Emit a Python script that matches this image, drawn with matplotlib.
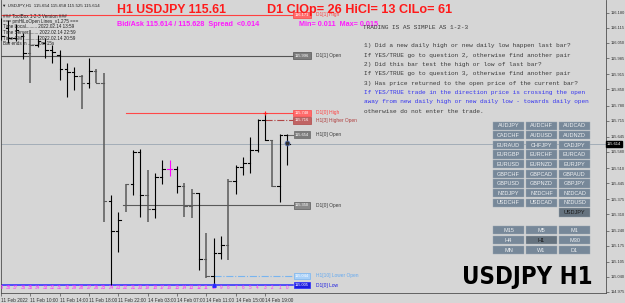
import os
import matplotlib
matplotlib.use("Agg")
import matplotlib.pyplot as plt
from matplotlib.patches import Rectangle
from matplotlib import font_manager as fm

W, H = 625, 303

# H1 bars, oldest (bar 39) to newest (bar 0)
bar_numbers = list(range(39, -1, -1))
opens = [116.106, 116.115, 116.072, 116.080, 116.007, 116.041, 116.050, 116.020, 115.998, 115.938,
         115.925, 115.907, 115.877, 115.929, 115.877, 115.368, 115.238, 115.350, 115.441, 115.579,
         115.394, 115.333, 115.471, 115.506, 115.506, 115.433, 115.346, 115.402, 115.117, 115.044,
         115.143, 115.178, 115.454, 115.515, 115.532, 115.588, 115.716, 115.631, 115.433, 115.654]
highs = [116.158, 116.149, 116.132, 116.093, 116.106, 116.085, 116.072, 116.041, 116.020, 115.964,
         115.946, 115.912, 115.985, 115.938, 115.920, 115.394, 115.320, 115.441, 115.588, 115.592,
         115.502, 115.489, 115.545, 115.545, 115.519, 115.445, 115.420, 115.402, 115.230, 115.208,
         115.217, 115.463, 115.523, 115.558, 115.644, 115.722, 115.748, 115.631, 115.657, 115.658]
lows = [116.063, 116.050, 116.059, 115.981, 115.877, 116.033, 115.985, 115.964, 115.890, 115.817,
        115.847, 115.765, 115.856, 115.877, 115.277, 115.005, 115.148, 115.320, 115.394, 115.299,
        115.277, 115.294, 115.441, 115.476, 115.402, 115.299, 115.294, 115.069, 115.035, 115.005,
        115.117, 115.113, 115.398, 115.480, 115.489, 115.579, 115.631, 115.428, 115.363, 115.525]
closes = [116.080, 116.072, 116.106, 116.007, 116.041, 116.059, 116.020, 116.011, 115.938, 115.925,
          115.907, 115.877, 115.929, 115.877, 115.368, 115.238, 115.286, 115.441, 115.579, 115.394,
          115.333, 115.471, 115.506, 115.506, 115.433, 115.346, 115.402, 115.117, 115.044, 115.143,
          115.178, 115.454, 115.515, 115.532, 115.588, 115.718, 115.631, 115.433, 115.653, 115.614]

x_labels = ["11 Feb 2022", "11 Feb 10:00", "11 Feb 14:00", "11 Feb 18:00", "11 Feb 22:00",
            "14 Feb 03:00", "14 Feb 07:00", "14 Feb 11:00", "14 Feb 15:00", "14 Feb 19:00"]
y_ticks = [116.180, 116.115, 116.050, 115.985, 115.915, 115.850, 115.780, 115.715, 115.645,
           115.580, 115.510, 115.445, 115.375, 115.310, 115.240, 115.175, 115.105, 115.040, 114.975]
bid, ask = 115.614, 115.628

# price levels: name, price, first bar number the line starts on
level_names = ["D1[1] High", "D1[1] Open", "D1[0] High", "H1[3] Higher Open",
               "H1[0] Open", "D1[0] Open", "H1[10] Lower Open", "D1[0] Low"]
level_prices = [116.171, 115.996, 115.748, 115.716, 115.654, 115.350, 115.044, 115.005]
level_start = [45, 45, 22, 3, 0, 22, 10, 45]

pairs = ["AUDJPY", "AUDCHF", "AUDCAD", "CADCHF", "AUDUSD", "AUDNZD", "EURAUD", "CHFJPY", "CADJPY",
         "EURGBP", "EURCHF", "EURCAD", "EURUSD", "EURNZD", "EURJPY", "GBPCHF", "GBPCAD", "GBPAUD",
         "GBPUSD", "GBPNZD", "GBPJPY", "NZDJPY", "NZDCHF", "NZDCAD", "USDCHF", "USDCAD", "NZDUSD",
         "", "", "USDJPY"]
timeframes = ["M15", "M5", "M1", "H4", "H1", "M30", "MN", "W1", "D1"]

rules = [
    "1) Did a new daily high or new daily low happen last bar?",
    "If YES/TRUE go to question 2, otherwise find another pair",
    "2) Did this bar test the high or low of last bar?",
    "If YES/TRUE go to question 3, otherwise find another pair",
    "3) Has price returned to the open price of the current bar?",
    "If YES/TRUE trade in the direction price is crossing the open",
    "away from new daily high or new daily low - towards daily open",
    "otherwise do not enter the trade.",
]

# styles
BG = "#d6d6d6"
gray_bars = [35, 28, 26, 25, 22, 19, 14, 13, 11, 8, 2]
level_colors = ["#ff4040", "#555555", "#ff4848", "#b04646", "#6a6a6a", "#5a5a5a", "#78b4f0", "#2a2aff"]
level_box = ["#ff6a6a", "#7c7c7c", "#ff6a6a", "#c06464", "#7c7c7c", "#8a8a8a", "#a8d0f8", "#1c1ce0"]
label_colors = ["#ff4040", "#3c3c3c", "#ff4040", "#b04040", "#3c3c3c", "#3c3c3c", "#66aaf0", "#2020e0"]
level_styles = ["-", "-", "-", "-.", "-", "-", "-.", "-"]
rule_colors = ["#3a3a3a"] * 5 + ["#3535f0", "#3535f0", "#3a3a3a"]
SANS = ["Liberation Sans", "DejaVu Sans"]
MONO = ["Liberation Mono", "DejaVu Sans Mono"]


def px(x):
    return 39 - (287 - x) / 7.33


def fx(x):
    return x / W


def fy(y):
    return 1 - y / H


def price(y):
    return 116.050 - (y - 43) / 231.6


def narrow_bold_font():
    # look for a condensed / narrow bold face for the big symbol caption
    for f in fm.fontManager.ttflist:
        base = os.path.basename(f.fname).lower()
        bold = f.weight in ("bold", 700, "heavy", 800, 900, "black")
        if bold and ("narrow" in base or "condensed" in base or "narrow" in f.name.lower()
                     or "condensed" in f.name.lower()):
            return fm.FontProperties(fname=f.fname)
    return fm.FontProperties(family="Liberation Sans", weight="bold")


fig = plt.figure(figsize=(W / 100, H / 100), dpi=100, facecolor=BG)
ax = fig.add_axes([fx(1), 1 - 293 / H, (606 - 1) / W, 293 / H])
ax.set_facecolor(BG)
ax.set_xlim(px(1), px(606))
ax.set_ylim(price(293), price(0))

# bid line
ax.axhline(bid, color="#a3adb8", lw=0.7, zorder=1)

# levels
for name, p, s, c, bc, lc, ls in zip(level_names, level_prices, level_start, level_colors,
                                     level_box, label_colors, level_styles):
    lw = 1.1 if name == "D1[0] Low" else 0.8
    ax.plot([39 - s, px(293)], [p, p], color=c, lw=lw, ls=ls, zorder=2)
    ax.text(px(302), p, f"{p:.3f}", fontsize=2.9, family=SANS, color="white", ha="center", va="center",
            bbox=dict(boxstyle="square,pad=0.35", fc=bc, ec=c, lw=0.5), zorder=5)
    ax.text(px(316), p, name, fontsize=3.5, family=SANS, color=lc, ha="left", va="center", zorder=5)

# bars
for i, (n, o, h, l, c) in enumerate(zip(bar_numbers, opens, highs, lows, closes)):
    col, lw = "#000000", 0.8
    if n in gray_bars:
        col, lw = "#5a5a5a", 1.1
    if n == 16:
        col = "#ff00ff"
    ax.plot([i, i], [l, h], color=col, lw=lw, solid_capstyle="butt", zorder=3)
    ax.plot([i - 0.35, i], [o, o], color=col, lw=0.8, zorder=3)
    ax.plot([i, i + 0.35], [c, c], color=col, lw=0.8, zorder=3)
    ax.text(i, price(287.5), str(n), color="#ff2cff", fontsize=3.3, family=SANS,
            ha="center", va="center", zorder=4, clip_on=True)

# markers: day high / day low / current bar
ax.plot([39 - 3], [level_prices[2]], marker="+", color="#ff2020", ms=3, mew=0.8, zorder=6)
ax.plot([39 - 10], [level_prices[7]], marker="^", color="#2a2aff", ms=2.5, zorder=6)
ax.plot([39], [bid + 0.006], marker="o", color="#303030", mec="#5070c0", ms=3.5, mew=0.5, zorder=6)

# axes styling
ax.spines["top"].set_visible(False)
for side in ["left", "bottom", "right"]:
    ax.spines[side].set_color("#505050")
    ax.spines[side].set_linewidth(0.6)
ax.set_xticks(range(0, 40, 4))
ax.set_xticklabels(x_labels, ha="left")
ax.yaxis.tick_right()
ax.set_yticks(y_ticks)
ax.set_yticklabels([f"{v:.3f}" for v in y_ticks])
ax.tick_params(axis="x", length=2, width=0.4, pad=1.5, labelsize=3.4, colors="#303030")
ax.tick_params(axis="y", length=2, width=0.4, pad=1.5, labelsize=2.9, colors="#303030")
for t in ax.get_xticklabels() + ax.get_yticklabels():
    t.set_family(SANS)
ax.text(px(607), bid, f"{bid:.3f}", fontsize=2.9, family=SANS, color="white", ha="left", va="center",
        bbox=dict(boxstyle="square,pad=0.3", fc="black", ec="black"), zorder=7, clip_on=False)

# header and info block
fig.text(fx(2), fy(5.5), "\u25bc USDJPY,H1  115.654 115.658 115.525 115.614", fontsize=3.2,
         family=SANS, color="#202020", va="center")
info = ["### ToolBox 1-2-3 Version ###", "=== pmHiLoOpen Lines_v1.275 ===",
        "Time Local......... 2022.02.14 13:59", "Time Server........ 2022.02.14 22:59",
        "Time GMT........... 2022.02.14 20:59", "Bar ends in ........ 0m 15s"]
for line, y in zip(info, [16, 21, 26.5, 32.5, 38, 43.5]):
    fig.text(fx(3), fy(y), line, fontsize=3.3, family=SANS, color="#202020", va="center")

fig.text(fx(117), fy(12.8), "H1 USDJPY 115.61", fontsize=8.8, weight="bold", family=SANS,
         color="#ff1a1a", va="baseline", zorder=10)
fig.text(fx(267), fy(12.8), "D1 ClOp= 26 HiCl= 13 ClLo= 61", fontsize=9.1, weight="bold",
         family=SANS, color="#ff1a1a", va="baseline", zorder=10)
fig.text(fx(117), fy(26), f"Bid/Ask {bid:.3f} / {ask:.3f}  Spread  <0.014", fontsize=5.2,
         weight="bold", family=SANS, color="#ff1aff", va="baseline")
fig.text(fx(299), fy(26), "Min= 0.011  Max= 0.015", fontsize=5.2, weight="bold", family=SANS,
         color="#ff1aff", va="baseline")

# rules text
fig.text(fx(363), fy(27.5), "TRADING IS AS SIMPLE AS 1-2-3", fontsize=4.4, family=MONO,
         color="#3a3a3a", va="center")
for k, (line, c) in enumerate(zip(rules, rule_colors)):
    fig.text(fx(364), fy(46 + 9.3 * k), line, fontsize=4.4, family=MONO, color=c, va="center")


def button(x0, y0, name, sel):
    fig.add_artist(Rectangle((fx(x0), fy(y0 + 8.2)), 31 / W, 8.2 / H, transform=fig.transFigure,
                             fc="#66737f" if sel else "#778899", ec="#9aa6b2", lw=0.3))
    fig.text(fx(x0 + 15.5), fy(y0 + 4.3), name, fontsize=4.0, family=SANS,
             color="#1a1a1a" if sel else "#eef0f2", ha="center", va="center")


for k, name in enumerate(pairs):
    if name:
        r, cidx = divmod(k, 3)
        button(493 + 33 * cidx, 121.5 + 9.65 * r, name, name == "USDJPY")

for k, name in enumerate(timeframes):
    r, cidx = divmod(k, 3)
    button(493 + 33 * cidx, 226 + 10 * r, name, name == "H1")

# big caption, sized to the box it fills in the reference
big = fig.text(fx(593), fy(284), "USDJPY H1", fontproperties=narrow_bold_font(),
               color="black", ha="right", va="baseline")
big.set_fontsize(20)
renderer = fig.canvas.get_renderer()
w = big.get_window_extent(renderer).width
big.set_fontsize(min(20 * 130 / w, 26))

fig.savefig("out.png", dpi=100, facecolor=BG)
